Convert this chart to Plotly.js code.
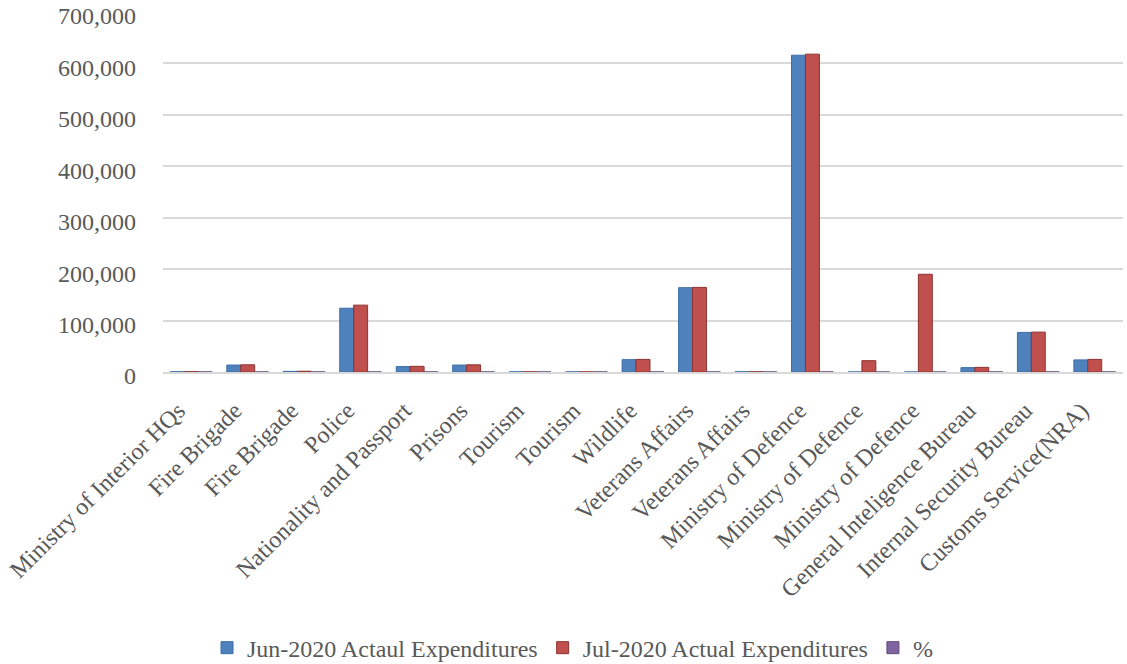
<!DOCTYPE html>
<html>
<head>
<meta charset="utf-8">
<script src="https://cdn.plot.ly/plotly-3.0.1.min.js"></script>
<style>html,body{margin:0;padding:0;background:#fff;}#chart{width:1127px;height:664px;}</style>
</head>
<body>
<div id="chart"></div>
<script>
const categories = [
  "Ministry of Interior HQs", "Fire Brigade", "Fire Brigade", "Police",
  "Nationality and Passport", "Prisons", "Tourism", "Tourism", "Wildlife",
  "Veterans Affairs", "Veterans Affairs", "Ministry of Defence",
  "Ministry of Defence", "Ministry of Defence", "General Inteligence Bureau",
  "Internal Security Bureau", "Customs Service(NRA)"
];
const jun2020 = [500, 13500, 1200, 124000, 10500, 13500, 300, 200, 24000, 164000, 400, 616000, 0, 0, 8500, 77000, 23500];
const jul2020 = [600, 14000, 1500, 130000, 11000, 14000, 300, 200, 24500, 164500, 400, 618000, 22000, 190000, 9000, 77500, 24500];
const pct = [100, 104, 125, 105, 105, 104, 100, 100, 102, 100, 100, 100, 0, 0, 106, 101, 104];
const yTicks = [0, 100000, 200000, 300000, 400000, 500000, 600000, 700000];

const idx = categories.map((c, i) => i);
const font = {family: "Liberation Serif, Times New Roman, serif", color: "#595959"};

const traces = [
  {type: "bar", name: "Jun-2020 Actaul Expenditures", x: idx, y: jun2020,
   marker: {color: "#4f81bd", line: {color: "#3d6ea8", width: 1}}},
  {type: "bar", name: "Jul-2020 Actual Expenditures", x: idx, y: jul2020,
   marker: {color: "#c0504d", line: {color: "#8c3230", width: 1}}},
  {type: "bar", name: "%", x: idx, y: pct,
   marker: {color: "#8064a2", line: {color: "#604a7b", width: 1}}}
];

const layout = {
  width: 1127, height: 664,
  margin: {l: 163, r: 4, t: 12, b: 292, autoexpand: false},
  paper_bgcolor: "#ffffff", plot_bgcolor: "#ffffff",
  barmode: "group", bargap: 0.26, bargroupgap: 0,
  showlegend: true,
  legend: {orientation: "h", xref: "container", yref: "container",
    x: 0.508, xanchor: "center", y: 0.024, yanchor: "middle",
    itemwidth: 30, tracegroupgap: 0,
    font: Object.assign({size: 24}, font), traceorder: "normal"},
  xaxis: {
    tickmode: "array", tickvals: idx, ticktext: categories,
    tickangle: -45, range: [-0.5, 16.5],
    tickfont: Object.assign({size: 24}, font),
    showgrid: false, zeroline: false, showline: true, linecolor: "#d9d9d9", linewidth: 2,
    ticks: "", automargin: false, ticklabelstandoff: 13, ticklabelshift: -13
  },
  yaxis: {
    range: [0, 700000], tickmode: "array", tickvals: yTicks,
    tickformat: ",", tickfont: Object.assign({size: 24}, font),
    showgrid: true, gridcolor: "#d9d9d9", gridwidth: 2,
    zeroline: false, showline: false, ticks: "", ticklen: 0,
    automargin: false, ticklabelstandoff: 26, ticklabelshift: 4
  }
};

Plotly.newPlot("chart", traces, layout, {displayModeBar: false, staticPlot: true});
</script>
</body>
</html>
